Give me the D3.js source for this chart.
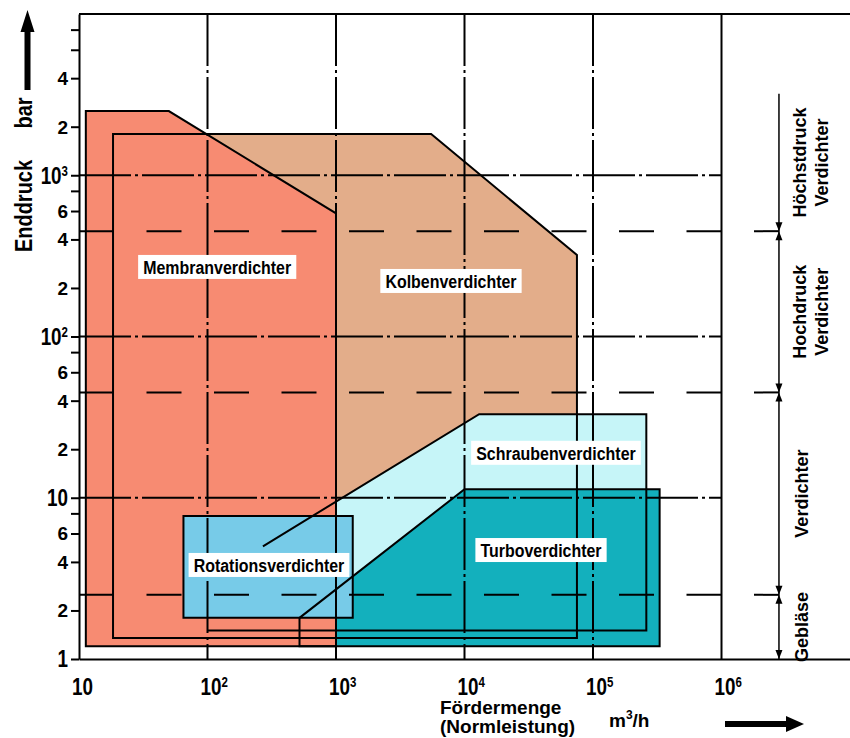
<!DOCTYPE html>
<html>
<head>
<meta charset="utf-8">
<script src="https://d3js.org/d3.v7.min.js"></script>
<style>
  body { margin: 0; background: #fff; }
  text { font-family: "Liberation Sans", Arial, sans-serif; font-weight: bold; fill: #000; }
</style>
</head>
<body>
<div id="chart"></div>
<script>
const width = 850, height = 738;

// axis ticks
const xDecades = [10, 1e2, 1e3, 1e4, 1e5, 1e6];
const yDecades = [1, 10, 100, 1000];
const yMinorLabelled = [2, 4, 6, 20, 40, 60, 200, 400, 600, 2000, 4000];
const yMinorPlain = [8, 80, 800, 6000, 8000];

// pressure classes (bar), from bottom to top
const classBounds = [1, 2.5, 45, 450, 3200];
const classNames = [["Gebläse"], ["Verdichter"], ["Hochdruck", "Verdichter"], ["Höchstdruck", "Verdichter"]];

// compressor regions: [Fördermenge m3/h, Enddruck bar]
const kolben = [[18.4, 1.35], [18.4, 1800], [5500, 1800], [75000, 320], [75000, 1.35]];
const schrauben = [[270, 5], [13000, 33], [260000, 33], [260000, 1.5], [100, 1.5], [100, 5]];
const turbo = [[520, 1.2], [520, 1.8], [10000, 11.3], [330000, 11.3], [330000, 1.2]];
const membran = [[11.3, 1.2], [11.3, 2500], [50, 2500], [1000, 580], [1000, 1.2]];
const rotation = [[65, 1.8], [65, 7.7], [1350, 7.7], [1350, 1.8]];

const regionColors = ["#e3ad8a", "#c6f5f8", "#13b0bd", "#f78b72", "#77cbe8"];

// region labels
const labelNames = ["Membranverdichter", "Kolbenverdichter", "Schraubenverdichter", "Turboverdichter", "Rotationsverdichter"];
const labelX = [119, 7850, 51500, 39400, 301];
const labelY = [270, 221, 19, 4.74, 3.83];

const svg = d3.select("#chart").append("svg")
  .attr("width", width).attr("height", height);

const x = d3.scaleLog().domain([10, 1e7]).range([79, 850]);
const y = d3.scaleLog().domain([1, 1e4]).range([659, 14]);
const line = d3.line().x(d => x(d[0])).y(d => y(d[1]));

// fills
const regions = [kolben, schrauben, turbo, membran, rotation];
svg.append("g").selectAll("path")
  .data(regions)
  .enter().append("path")
  .attr("d", d => line(d) + "Z")
  .attr("fill", (d, i) => regionColors[i])
  .attr("stroke", "none");

// grid
const grid = svg.append("g").attr("stroke", "#000").attr("stroke-width", 2).attr("fill", "none");
grid.selectAll(".vdd")
  .data(xDecades.slice(1, 5))
  .enter().append("line")
  .attr("x1", d => x(d)).attr("x2", d => x(d))
  .attr("y1", y(1e4)).attr("y2", y(1))
  .attr("stroke-dasharray", "52,4,3,4");
grid.append("line")
  .attr("x1", x(1e6)).attr("x2", x(1e6))
  .attr("y1", y(1e4)).attr("y2", y(1));
grid.selectAll(".hdd")
  .data(yDecades.slice(1))
  .enter().append("line")
  .attr("x1", x(10)).attr("x2", x(1e6))
  .attr("y1", d => y(d)).attr("y2", d => y(d))
  .attr("stroke-dasharray", "52,4,3,4");

const bracketX = x(2.8e6);
grid.selectAll(".hd")
  .data(classBounds.slice(1, 4))
  .enter().append("line")
  .attr("x1", x(10)).attr("x2", bracketX)
  .attr("y1", d => y(d)).attr("y2", d => y(d))
  .attr("stroke-dasharray", "35,32.5");

// top frame
grid.append("line")
  .attr("x1", x(10)).attr("x2", x(1e7))
  .attr("y1", y(1e4)).attr("y2", y(1e4));

// outlines
const outlines = svg.append("g").attr("stroke", "#000").attr("stroke-width", 2).attr("fill", "none");
regions.forEach(r => {
  if (r === schrauben) outlines.append("path").attr("d", line(r.slice(0, 5)));
  else outlines.append("path").attr("d", line(r) + "Z");
});

// axes
svg.append("g")
  .attr("transform", `translate(${x(10)},0)`)
  .call(d3.axisLeft(y).tickValues(yDecades.concat(yMinorLabelled, yMinorPlain)).tickSize(8).tickSizeOuter(0).tickFormat(""))
  .call(g => g.selectAll("path,line").attr("stroke", "#000").attr("stroke-width", 2));

svg.append("g")
  .attr("transform", `translate(0,${y(1)})`)
  .call(d3.axisBottom(x).tickValues([]).tickSizeOuter(0))
  .call(g => g.selectAll("path").attr("stroke", "#000").attr("stroke-width", 2));

// y tick labels
function powerLabel(sel, v) {
  const e = Math.round(Math.log10(v));
  if (e === 0) { sel.text("1"); return; }
  sel.append("tspan").text("10");
  if (e > 1) sel.append("tspan").attr("dy", -8).attr("font-size", 14).text(e);
}

svg.selectAll(".ydec")
  .data(yDecades)
  .enter().append("text")
  .attr("transform", d => `translate(68,${y(d)}) scale(0.82,1)`)
  .attr("dy", "0.36em")
  .attr("text-anchor", "end")
  .attr("font-size", 23)
  .each(function (d) { powerLabel(d3.select(this), d); });

svg.selectAll(".ymin")
  .data(yMinorLabelled)
  .enter().append("text")
  .attr("x", 68).attr("y", d => y(d))
  .attr("dy", "0.36em")
  .attr("text-anchor", "end")
  .attr("font-size", 19)
  .text(d => String(d).charAt(0));

// x tick labels
svg.selectAll(".xdec")
  .data(xDecades)
  .enter().append("text")
  .attr("transform", d => `translate(${x(d) - 7},695) scale(0.82,1)`)
  .attr("font-size", 23)
  .each(function (d) { powerLabel(d3.select(this), d); });

// axis titles
svg.append("text").attr("x", 440).attr("y", 714).attr("font-size", 19).text("Fördermenge");
svg.append("text").attr("x", 440).attr("y", 733).attr("font-size", 19).text("(Normleistung)");
const unit = svg.append("text").attr("x", 609).attr("y", 727).attr("font-size", 19);
unit.append("tspan").text("m");
unit.append("tspan").attr("dy", -8).attr("font-size", 12).text("3");
unit.append("tspan").attr("dy", 8).text("/h");

svg.append("text")
  .attr("transform", "translate(32,206) rotate(-90) scale(0.87,1)")
  .attr("text-anchor", "middle").attr("font-size", 23).text("Enddruck");
svg.append("text")
  .attr("transform", "translate(32,113) rotate(-90) scale(0.87,1)")
  .attr("text-anchor", "middle").attr("font-size", 23).text("bar");

// direction arrows
svg.append("path").attr("fill", "#000")
  .attr("d", "M24.5,90 L24.5,32 L20.5,32 L27.5,10 L34.5,32 L30.5,32 L30.5,90 Z");
svg.append("path").attr("fill", "#000")
  .attr("d", "M725,721 L786,721 L786,716 L804,724 L786,732 L786,727 L725,727 Z");

// pressure class bracket
const bracket = svg.append("g");
bracket.append("line")
  .attr("x1", bracketX).attr("x2", bracketX)
  .attr("y1", y(classBounds[4])).attr("y2", y(1))
  .attr("stroke", "#000").attr("stroke-width", 1.5);
function arrowHead(yt, dir) {
  return `M${bracketX},${yt} L${bracketX - 3.5},${yt - dir * 9} L${bracketX + 3.5},${yt - dir * 9} Z`;
}
classBounds.slice(0, 4).forEach((b, i) => {
  bracket.append("path").attr("d", arrowHead(y(b), 1)).attr("fill", "#000");
  if (i > 0) bracket.append("path").attr("d", arrowHead(y(b), -1)).attr("fill", "#000");
});
classNames.forEach((names, i) => {
  const cy = y(Math.sqrt(classBounds[i] * classBounds[i + 1]));
  names.forEach((n, j) => {
    const bx = names.length === 1 ? bracketX + 29 : bracketX + 27 + j * 22;
    bracket.append("text")
      .attr("transform", `translate(${bx},${cy}) rotate(-90)`)
      .attr("text-anchor", "middle")
      .attr("font-size", 18)
      .text(n);
  });
});

// region labels
labelNames.forEach((name, i) => {
  const g = svg.append("g").attr("transform", `translate(${x(labelX[i])},${y(labelY[i])})`);
  const rect = g.append("rect").attr("fill", "#fff");
  const t = g.append("text")
    .attr("transform", "scale(0.84,1)")
    .attr("text-anchor", "middle")
    .attr("dy", "0.36em")
    .attr("font-size", 19)
    .text(name);
  const w = t.node().getBBox().width * 0.84 + 10;
  rect.attr("x", -w / 2).attr("y", -12).attr("width", w).attr("height", 24);
});
</script>
</body>
</html>
